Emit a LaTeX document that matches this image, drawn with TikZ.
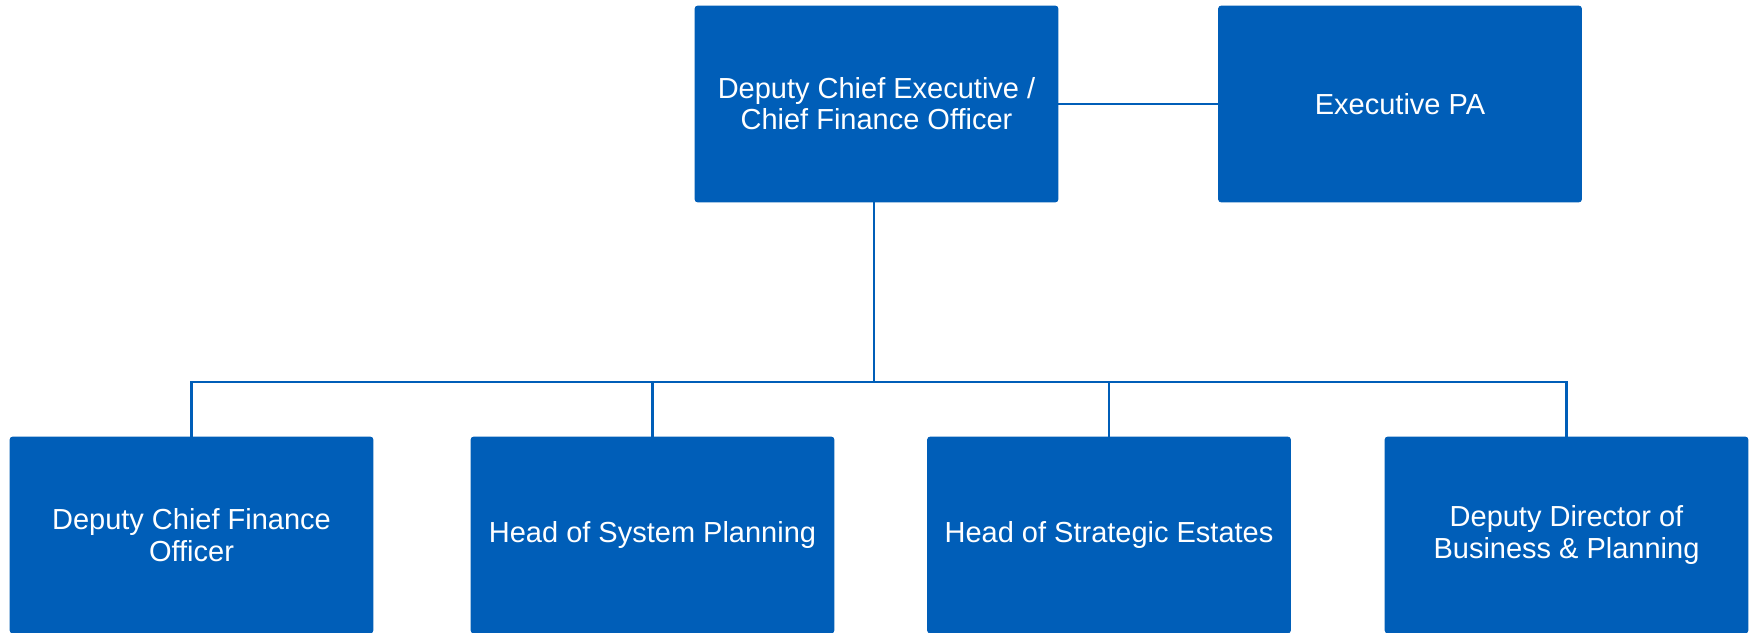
\documentclass[tikz,border=0pt]{standalone}
\usepackage{fontspec}
\setmainfont{Liberation Sans}
\usepackage{tikz}
\usetikzlibrary{positioning}
\definecolor{orgblue}{HTML}{005EB8}

\begin{document}
\begin{tikzpicture}[x=0.02cm,y=-0.02cm,
    post/.style={draw=orgblue, fill=orgblue, rounded corners=1.5pt, minimum width=7.26cm, minimum height=3.92cm, text=white, align=center, font=\fontsize{16.5}{17.8}\selectfont, inner sep=2pt},
    link/.style={draw=orgblue, line width=1.2pt}]
    \useasboundingbox[fill=white] (0,0) rectangle (1754,632);
    \node[post] (dce) at (876.5,104) {Deputy Chief Executive /\\Chief Finance Officer};
    \node[post] (epa) at (1400,104) {Executive PA};
    \node[post] (dcfo) at (191.5,535) {Deputy Chief Finance\\Officer};
    \node[post] (hsp) at (652.5,535) {Head of System Planning};
    \node[post] (hse) at (1109,535) {Head of Strategic Estates};
    \node[post] (ddbp) at (1566.5,535) {Deputy Director of\\Business \& Planning};
    \coordinate (bus) at (874,382);
    \draw[link] (dce) -- (epa);
    \draw[link] (dce.south -| bus) -- (bus);
    \foreach \n in {dcfo,hsp,hse,ddbp}
        \draw[link] (bus) -| (\n.north);
\end{tikzpicture}
\end{document}
